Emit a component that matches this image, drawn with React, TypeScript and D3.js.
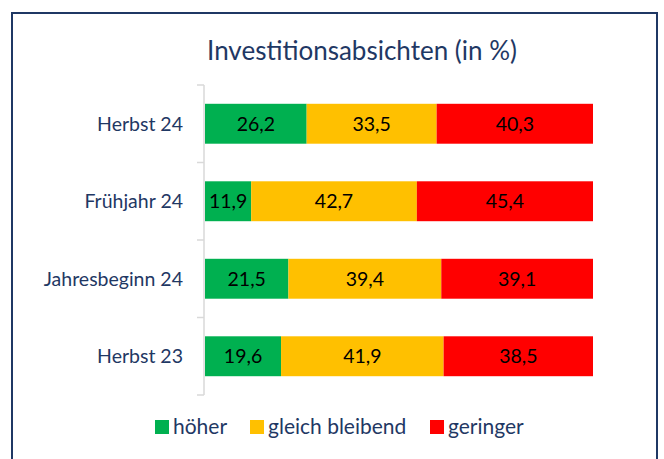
import React from "react";
import * as d3 from "d3";

const categories = ["Herbst 24", "Frühjahr 24", "Jahresbeginn 24", "Herbst 23"];
const hoeher = [26.2, 11.9, 21.5, 19.6];
const gleich = [33.5, 42.7, 39.4, 41.9];
const geringer = [40.3, 45.4, 39.1, 38.5];
const seriesNames = ["höher", "gleich bleibend", "geringer"];
const colors = ["#00B050", "#FFC000", "#FF0000"];
const title = "Investitionsabsichten (in %)";

const W = 664;
const H = 459;
const FONT = "Lato, 'Noto Sans', sans-serif";
const BLUE = "#1F3864";

export default function App() {
  const x = d3.scaleLinear().domain([0, 100]).range([205, 593]);
  const y = d3.scaleBand().domain(categories).range([85, 395]).paddingInner(0.485).paddingOuter(0.2425);
  const band = d3.scaleBand().domain(categories).range([85, 395]);
  const rows = categories.map((c, i) => ({ c, vals: [hoeher[i], gleich[i], geringer[i]] }));
  const legendX = [155, 250, 430];
  const fmt = (v: number) => v.toFixed(1).replace(".", ",");
  return (
    <svg width={W} height={H} style={{ position: "absolute", left: 0, top: 0, display: "block" }} fontFamily={FONT}>
      <rect x={0} y={0} width={W} height={H} fill="#fff" />
      <rect x={12} y={13} width={645} height={470} fill="none" stroke={BLUE} strokeWidth={2} />
      <text x={362} y={60} textAnchor="middle" fontSize={26} fill={BLUE}>{title}</text>
      <line x1={204} x2={204} y1={85} y2={395} stroke="#D9D9D9" strokeWidth={1.5} />
      {[...categories.map((c) => band(c)!), 395].map((t, i) => (
        <line key={i} x1={197} x2={204} y1={t} y2={t} stroke="#D9D9D9" strokeWidth={1.5} />
      ))}
      {rows.map((r) => {
        let acc = 0;
        const yy = y(r.c)!;
        const h = y.bandwidth();
        return (
          <g key={r.c}>
            <text x={183} y={yy + h / 2} dy="0.35em" textAnchor="end" fontSize={19.5} fill={BLUE}>{r.c}</text>
            {r.vals.map((v, j) => {
              const x0 = x(acc);
              acc += v;
              const x1 = x(acc);
              return (
                <g key={j}>
                  <rect x={x0} y={yy} width={x1 - x0} height={h} fill={colors[j]} />
                  <text x={(x0 + x1) / 2} y={yy + h / 2} dy="0.35em" textAnchor="middle" fontSize={19.5} fill="#000">{fmt(v)}</text>
                </g>
              );
            })}
          </g>
        );
      })}
      {seriesNames.map((s, i) => (
        <g key={s}>
          <rect x={legendX[i]} y={420} width={14} height={14} fill={colors[i]} />
          <text x={legendX[i] + 18} y={427} dy="0.35em" fontSize={21} fill={BLUE}>{s}</text>
        </g>
      ))}
    </svg>
  );
}
